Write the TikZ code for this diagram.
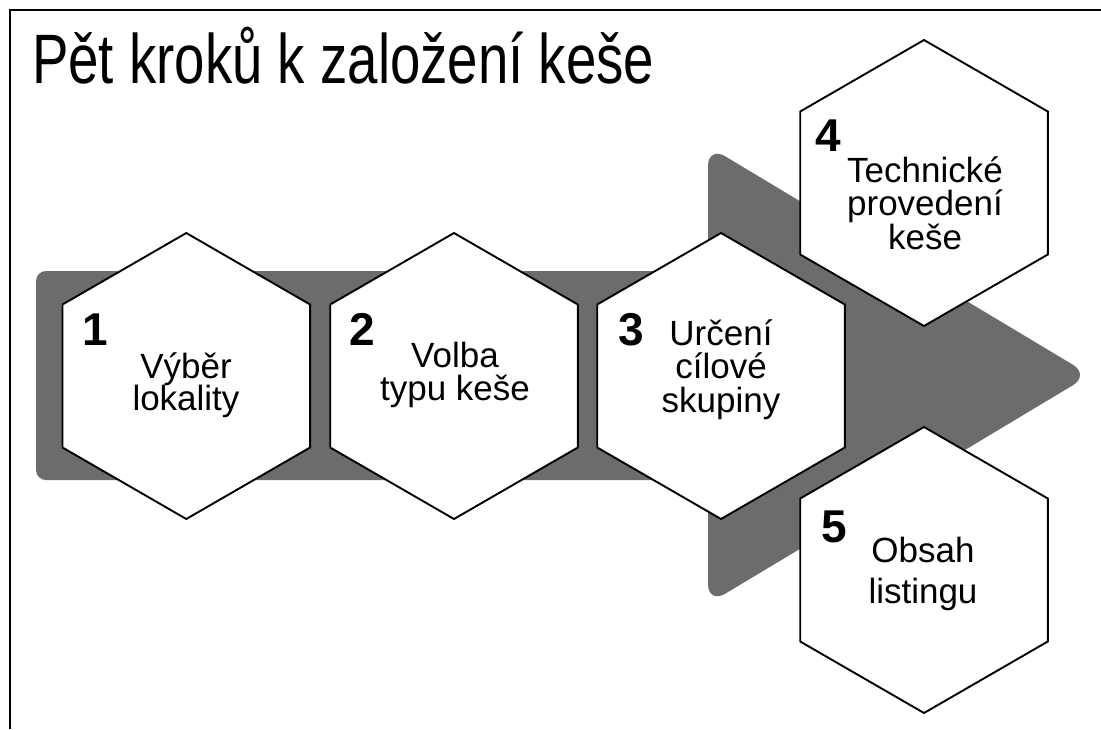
\documentclass[tikz,border=0pt]{standalone}
\usepackage{fontspec}
\setmainfont{Liberation Sans}
\usepackage{graphicx}
\definecolor{arrowgray}{RGB}{108,108,108}
\begin{document}
\begin{tikzpicture}[x=1pt,y=-1pt,
  hexa/.style={draw=black, line width=1.9pt, fill=white, line join=miter},
  lbl/.style={anchor=base, inner sep=0pt, font=\fontsize{35}{35}\selectfont},
  num/.style={anchor=base, inner sep=0pt, font=\fontsize{46}{46}\selectfont\bfseries},
  ttl/.style={anchor=base west, inner sep=0pt, font=\fontsize{70}{70}\selectfont}]
\useasboundingbox (0,0) rectangle (1101,729);
\fill[white] (0,0) rectangle (1101,729);
% frame
\draw[line width=2pt] (9.5,729) -- (9.5,10) -- (1101,10);
% title
\node[ttl] (title) at (32,83) {\scalebox{0.78}[1]{Pět kroků k založení keše}};
% grey arrow
\fill[arrowgray, rounded corners=10pt] (36,271) rectangle (740,480);
\fill[arrowgray, rounded corners=20pt] (708,146) -- (1090,375) -- (708,604) -- cycle;
% hexagons
\newcommand\hexat[3]{%
  \coordinate (#1) at (#2,#3);
  \draw[hexa] ([yshift=143pt]#1) -- ++(123.8,71.5) -- ++(0,143) -- ++(-123.8,71.5)
     -- ++(-123.8,-71.5) -- ++(0,-143) -- cycle;}
\hexat{h1}{186.3}{376}
\hexat{h2}{454}{376}
\hexat{h3}{721}{376}
\hexat{h4}{924}{183}
\hexat{h5}{924}{570}
% numbers
\node[num] (n1) at (95,345) {1};
\node[num] (n2) at (362,345) {2};
\node[num] (n3) at (631,345) {3};
\node[num] (n4) at (828,151) {4};
\node[num] (n5) at (834.5,542) {5};
% texts
\node[lbl] (t1a) at (186,378.3) {Výběr};
\node[lbl] (t1b) at (186,410.7) {lokality};
\node[lbl] (t2a) at (455,367) {Volba};
\node[lbl] (t2b) at (455,400) {typu keše};
\node[lbl] (t3a) at (721,345) {Určení};
\node[lbl] (t3b) at (721,378) {cílové};
\node[lbl] (t3c) at (721,412) {skupiny};
\node[lbl] (t4a) at (925,182) {Technické};
\node[lbl] (t4b) at (925,215) {provedení};
\node[lbl] (t4c) at (925,249) {keše};
\node[lbl] (t5a) at (923,562.7) {Obsah};
\node[lbl] (t5b) at (923,603.3) {listingu};
\end{tikzpicture}
\end{document}
